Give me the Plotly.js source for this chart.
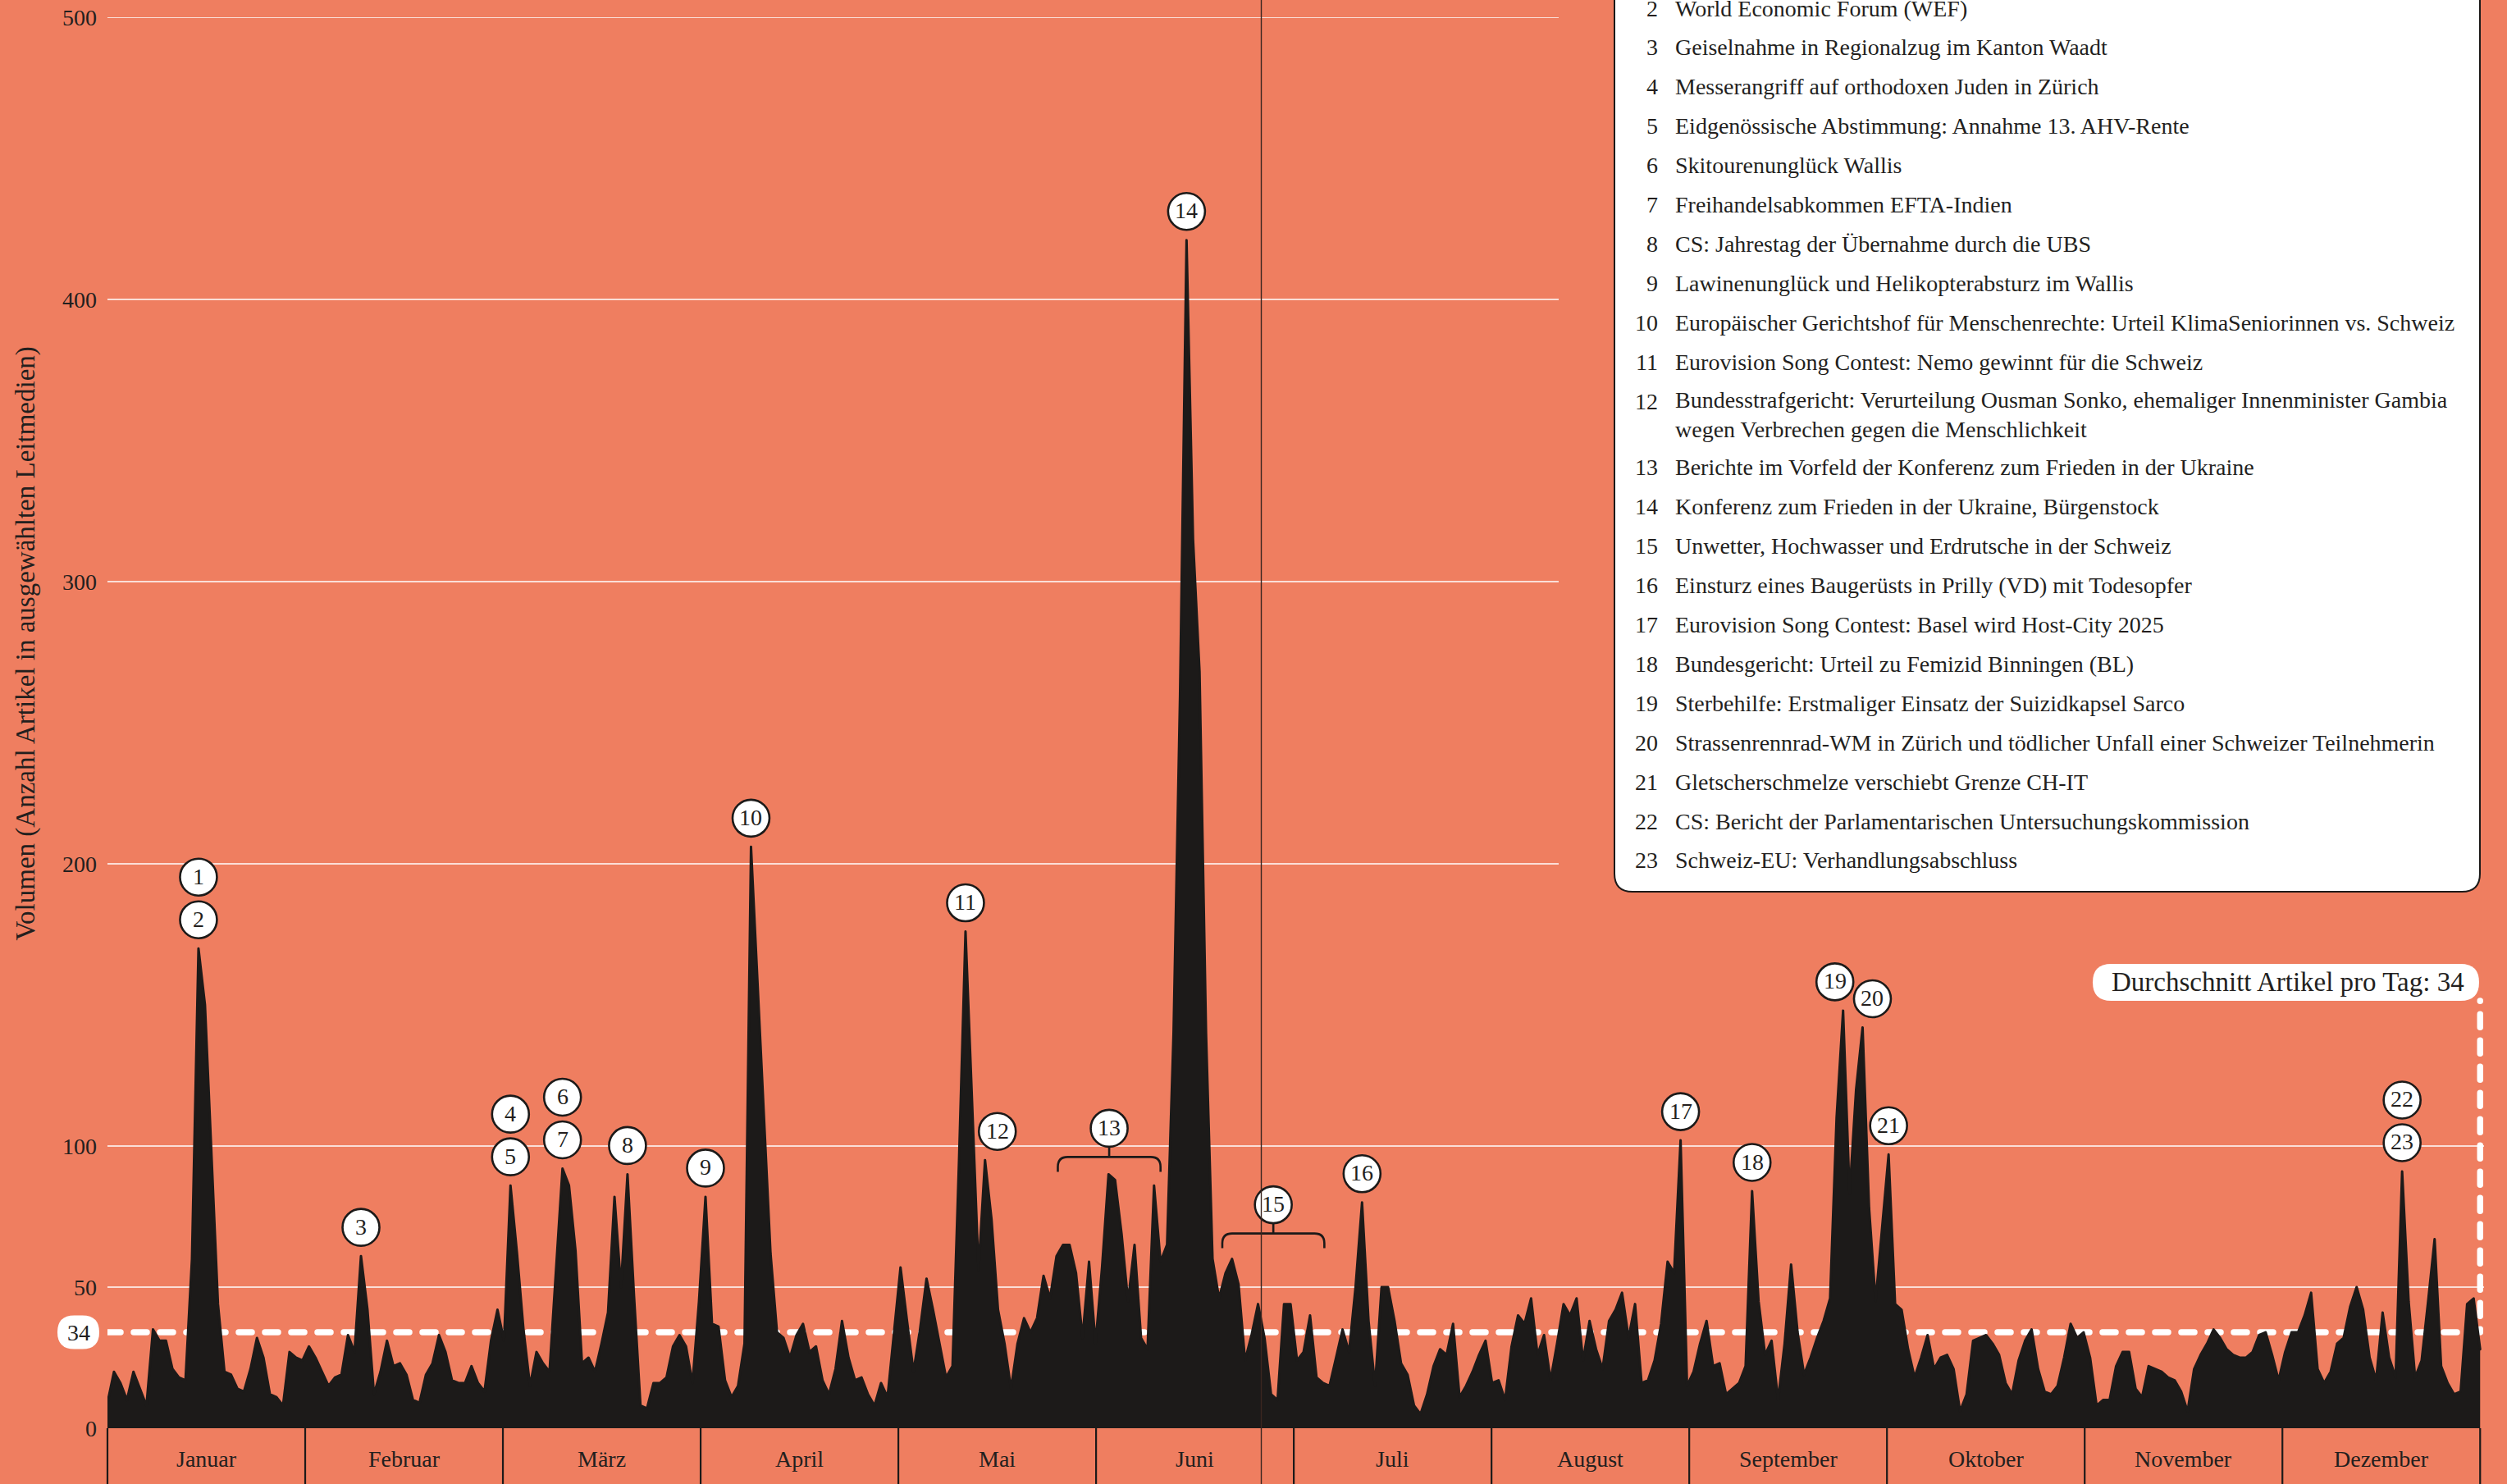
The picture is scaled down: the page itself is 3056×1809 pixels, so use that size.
<!DOCTYPE html>
<html>
<head>
<meta charset="utf-8">
<script src="https://cdn.plot.ly/plotly-3.0.1.min.js"></script>
<style>
html, body { margin: 0; padding: 0; background: #EF7E60; }
#chart { width: 3056px; height: 1809px; }
.scatterlayer path.js-line { stroke-linecap: round; stroke-linejoin: round; }
</style>
</head>
<body>
<div id="chart"></div>
<script>
// ---------------- DATA ----------------
const monthLabels = ['Januar', 'Februar', 'März', 'April', 'Mai', 'Juni', 'Juli', 'August', 'September', 'Oktober', 'November', 'Dezember'];
const monthLengths = [31, 29, 31, 30, 31, 30, 31, 31, 30, 31, 30, 31];

// daily article volume 2024, by month
const jan = [9, 20, 16, 10, 20, 14, 8, 35, 31, 31, 21, 18, 17, 60, 170, 150, 96, 44, 20, 19, 14, 13, 21, 32, 25, 12, 11, 8, 27, 25, 24];
const feb = [29, 25, 20, 15, 18, 19, 33, 27, 61, 42, 12, 20, 31, 22, 23, 19, 10, 9, 19, 23, 33, 27, 17, 16, 16, 22, 16, 13, 31];
const mar = [42, 31, 86, 62, 35, 15, 27, 23, 20, 56, 92, 86, 63, 23, 25, 20, 30, 41, 82, 50, 90, 47, 8, 7, 16, 16, 18, 29, 33, 29, 16];
const apr = [45, 82, 37, 36, 17, 11, 15, 30, 206, 157, 108, 62, 34, 32, 25, 33, 37, 27, 29, 17, 12, 21, 38, 25, 17, 18, 12, 8, 16, 11];
const may = [34, 57, 38, 20, 35, 53, 42, 30, 18, 22, 95, 176, 116, 56, 95, 74, 42, 30, 14, 30, 39, 34, 39, 54, 46, 61, 65, 65, 55, 32, 59];
const jun = [30, 57, 90, 88, 69, 45, 65, 32, 28, 86, 59, 65, 140, 260, 421, 315, 268, 140, 60, 46, 55, 60, 51, 24, 33, 44, 32, 12, 10, 44];
const jul = [44, 24, 27, 40, 18, 16, 15, 25, 35, 27, 50, 80, 38, 15, 50, 50, 38, 23, 19, 8, 5, 12, 22, 28, 26, 37, 11, 15, 20, 26, 31];
const aug = [16, 17, 10, 29, 40, 37, 46, 26, 33, 17, 30, 44, 40, 46, 24, 38, 28, 21, 38, 42, 48, 32, 44, 16, 17, 24, 37, 59, 55, 102, 15];
const sep = [20, 30, 38, 22, 23, 12, 14, 16, 22, 84, 45, 26, 31, 10, 30, 58, 34, 19, 25, 32, 38, 46, 110, 148, 83, 120, 142, 78, 45, 70];
const oct = [97, 44, 42, 28, 18, 25, 33, 21, 25, 26, 21, 6, 12, 31, 32, 33, 30, 26, 16, 12, 24, 31, 35, 21, 13, 12, 15, 25, 37, 32, 34];
const nov = [25, 8, 10, 10, 22, 27, 27, 14, 11, 22, 21, 20, 18, 17, 13, 6, 21, 26, 30, 35, 32, 28, 26, 25, 25, 27, 33, 34, 26, 17];
const dec = [27, 34, 34, 40, 48, 21, 16, 20, 30, 32, 43, 50, 42, 25, 17, 41, 25, 18, 91, 45, 18, 24, 45, 67, 22, 16, 12, 13, 44, 46, 28];

const averagePerDay = 34;
const yTickValues = [0, 50, 100, 200, 300, 400, 500];

// numbered events (peak date)
const eventNumbers = ['1', '2', '3', '4', '5', '6', '7', '8', '9', '10', '11', '12', '14', '16', '17', '18', '19', '20', '21', '22', '23'];
const eventMonths  = [0, 0, 1, 2, 2, 2, 2, 2, 3, 3, 4, 4, 5, 6, 7, 8, 8, 8, 9, 11, 11];
const eventDays    = [15, 15, 9, 3, 3, 11, 11, 21, 2, 9, 12, 15, 15, 12, 30, 10, 24, 27, 1, 19, 19];
const eventStack   = [1, 0, 0, 1, 0, 1, 0, 0, 0, 0, 0, 0, 0, 0, 0, 0, 0, 0, 0, 1, 0];

// events spanning a period (day-of-year range)
const rangeNumbers = ['13', '15'];
const rangeFrom = [146.2, 171.5];
const rangeTo = [162, 187.2];

const legendNumbers = ['2', '3', '4', '5', '6', '7', '8', '9', '10', '11', '12', '13', '14', '15', '16', '17', '18', '19', '20', '21', '22', '23'];
const legendTexts = [
  'World Economic Forum (WEF)',
  'Geiselnahme in Regionalzug im Kanton Waadt',
  'Messerangriff auf orthodoxen Juden in Zürich',
  'Eidgenössische Abstimmung: Annahme 13. AHV-Rente',
  'Skitourenunglück Wallis',
  'Freihandelsabkommen EFTA-Indien',
  'CS: Jahrestag der Übernahme durch die UBS',
  'Lawinenunglück und Helikopterabsturz im Wallis',
  'Europäischer Gerichtshof für Menschenrechte: Urteil KlimaSeniorinnen vs. Schweiz',
  'Eurovision Song Contest: Nemo gewinnt für die Schweiz',
  'Bundesstrafgericht: Verurteilung Ousman Sonko, ehemaliger Innenminister Gambia<br>wegen Verbrechen gegen die Menschlichkeit',
  'Berichte im Vorfeld der Konferenz zum Frieden in der Ukraine',
  'Konferenz zum Frieden in der Ukraine, Bürgenstock',
  'Unwetter, Hochwasser und Erdrutsche in der Schweiz',
  'Einsturz eines Baugerüsts in Prilly (VD) mit Todesopfer',
  'Eurovision Song Contest: Basel wird Host-City 2025',
  'Bundesgericht: Urteil zu Femizid Binningen (BL)',
  'Sterbehilfe: Erstmaliger Einsatz der Suizidkapsel Sarco',
  'Strassenrennrad-WM in Zürich und tödlicher Unfall einer Schweizer Teilnehmerin',
  'Gletscherschmelze verschiebt Grenze CH-IT',
  'CS: Bericht der Parlamentarischen Untersuchungskommission',
  'Schweiz-EU: Verhandlungsabschluss'
];

const yTitle = 'Volumen (Anzahl Artikel in ausgewählten Leitmedien)';
const avgLabel = 'Durchschnitt Artikel pro Tag: ';

// ---------------- LAYOUT / STYLE ----------------
const W = 3056, H = 1809;
const M = { l: 131, r: 28, t: 21, b: 68, pad: 0 };
const plotW = W - M.l - M.r;
const plotH = H - M.t - M.b;
const X_MAX = 365.6, Y_MAX = 500;
const BG = '#EF7E60';
const DARK = '#1c1a19';
const TEXT = '#231f1e';
const FONT = '"Liberation Serif", "Times New Roman", serif';
const uy = Y_MAX / plotH;   // data units per pixel (y)
const ux = X_MAX / plotW;   // days per pixel (x)
const markerDay = 177.5;
const avgLabelValue = 158;
const eventDx = { '12': 15, '19': -10, '20': 12 };
const rangeGap = { '13': 21, '15': 31 };
const LEGEND_FONT = 28;
const CIRCLE_FONT = 28;

const volume = [].concat(jan, feb, mar, apr, may, jun, jul, aug, sep, oct, nov, dec);
const dayIdx = volume.map((_, i) => i);
const lastDay = volume.length - 1;
function doy(m, d) { let s = 0; for (let k = 0; k < m; k++) s += monthLengths[k]; return s + d - 1; }
function pxX(px) { return (px - M.l) / plotW; }
function pxY(py) { return (H - M.b - py) / plotH; }
function valPy(v) { return M.t + plotH * (1 - v / Y_MAX); }
function roundRect(x0, y0, x1, y1, r) {
  const X = pxX, Y = pxY;
  return `M ${X(x0 + r)},${Y(y0)} L ${X(x1 - r)},${Y(y0)} Q ${X(x1)},${Y(y0)} ${X(x1)},${Y(y0 + r)} ` +
    `L ${X(x1)},${Y(y1 - r)} Q ${X(x1)},${Y(y1)} ${X(x1 - r)},${Y(y1)} L ${X(x0 + r)},${Y(y1)} ` +
    `Q ${X(x0)},${Y(y1)} ${X(x0)},${Y(y1 - r)} L ${X(x0)},${Y(y0 + r)} Q ${X(x0)},${Y(y0)} ${X(x0 + r)},${Y(y0)} Z`;
}

const shapes = [];
const annotations = [];

// grid lines
yTickValues.filter(v => v > 0).forEach(v => {
  shapes.push({ type: 'line', xref: 'paper', yref: 'y', x0: 0, x1: v > 100 ? pxX(1900) : 1, y0: v, y1: v,
    line: { color: '#ffffff', width: 1.6 }, layer: 'below' });
});

// month cells
const monthSpan = lastDay / 12;
for (let k = 0; k <= 12; k++) {
  const xp = (k * monthSpan) / X_MAX;
  shapes.push({ type: 'line', xref: 'paper', yref: 'paper', x0: xp, x1: xp, y0: 0, y1: -M.b / plotH,
    line: { color: DARK, width: 2.2 } });
}
monthLabels.forEach((lab, k) => {
  annotations.push({ xref: 'paper', yref: 'paper', x: ((k + 0.5) * monthSpan) / X_MAX, y: pxY(1778),
    text: lab, showarrow: false, xanchor: 'center', yanchor: 'middle', font: { size: 28, color: TEXT } });
});

// event circles
const R = 22.5, GAP = 35, STEP = 52;
eventNumbers.forEach((num, i) => {
  const day = doy(eventMonths[i], eventDays[i]);
  const val = volume[day];
  const cy = GAP + eventStack[i] * STEP;
  const dx = eventDx[num] || 0;
  shapes.push({ type: 'circle', xref: 'x', yref: 'y', xsizemode: 'pixel', ysizemode: 'pixel',
    xanchor: day, yanchor: val, x0: dx - R, x1: dx + R, y0: cy - R, y1: cy + R,
    fillcolor: '#ffffff', line: { color: DARK, width: 2.6 }, layer: 'above' });
  annotations.push({ xref: 'x', yref: 'y', x: day, y: val, xshift: dx, yshift: cy + 1, text: num,
    showarrow: false, xanchor: 'center', yanchor: 'middle', font: { size: CIRCLE_FONT, color: TEXT } });
});

// range brackets
rangeNumbers.forEach((num, i) => {
  const a = rangeFrom[i], b = rangeTo[i];
  let mx = 0;
  for (let d = Math.ceil(a); d <= Math.floor(b); d++) mx = Math.max(mx, volume[d]);
  const by = mx + rangeGap[num] * uy;
  const ey = by - 18 * uy;
  const rx = 12 * ux, ry = 12 * uy;
  const mid = (a + b) / 2;
  const stemTop = by + 12 * uy;
  shapes.push({ type: 'path', xref: 'x', yref: 'y',
    path: `M ${a},${ey} L ${a},${by - ry} Q ${a},${by} ${a + rx},${by} L ${b - rx},${by} Q ${b},${by} ${b},${by - ry} L ${b},${ey} M ${mid},${by} L ${mid},${stemTop}`,
    line: { color: DARK, width: 2.6 }, fillcolor: 'rgba(0,0,0,0)', layer: 'above' });
  const cy = 35;
  shapes.push({ type: 'circle', xref: 'x', yref: 'y', xsizemode: 'pixel', ysizemode: 'pixel',
    xanchor: mid, yanchor: by, x0: -R, x1: R, y0: cy - R, y1: cy + R,
    fillcolor: '#ffffff', line: { color: DARK, width: 2.6 }, layer: 'above' });
  annotations.push({ xref: 'x', yref: 'y', x: mid, y: by, yshift: cy + 1, text: num,
    showarrow: false, xanchor: 'center', yanchor: 'middle', font: { size: CIRCLE_FONT, color: TEXT } });
});

// average labels
const avgPy = valPy(averagePerDay);
shapes.push({ type: 'path', xref: 'paper', yref: 'paper', path: roundRect(70, avgPy - 20.5, 121, avgPy + 20.5, 20.5),
  fillcolor: '#ffffff', line: { width: 0 }, layer: 'above' });
annotations.push({ xref: 'paper', yref: 'y', x: pxX(95.5), y: averagePerDay, text: String(averagePerDay), showarrow: false,
  xanchor: 'center', yanchor: 'middle', font: { size: 28, color: TEXT } });
const lblPy = valPy(avgLabelValue);
shapes.push({ type: 'path', xref: 'paper', yref: 'paper', path: roundRect(2551, lblPy - 22.5, 3022, lblPy + 22.5, 22.5),
  fillcolor: '#ffffff', line: { width: 0 }, layer: 'above' });
annotations.push({ xref: 'paper', yref: 'y', x: pxX(2788.5), y: avgLabelValue, text: avgLabel + averagePerDay, showarrow: false,
  xanchor: 'center', yanchor: 'middle', font: { size: 33, color: TEXT } });

// legend box
shapes.push({ type: 'path', xref: 'paper', yref: 'paper', path: roundRect(1968, -80, 3023, 1087, 22),
  fillcolor: '#ffffff', line: { color: DARK, width: 2 }, layer: 'above' });
legendNumbers.forEach((num, i) => {
  const k = parseInt(num, 10);
  let cy = 10 + (k - 2) * 47.9;
  if (k >= 13) cy += 33;
  const multi = legendTexts[i].indexOf('<br>') >= 0;
  annotations.push({ xref: 'paper', yref: 'paper', x: pxX(2023), y: pxY(cy), text: num, showarrow: false,
    xanchor: 'right', yanchor: 'middle', font: { size: LEGEND_FONT, color: TEXT } });
  annotations.push({ xref: 'paper', yref: 'paper', x: pxX(2039.5), y: pxY(multi ? cy + 17 : cy), text: legendTexts[i],
    showarrow: false, xanchor: 'left', yanchor: 'middle', align: 'left', font: { size: LEGEND_FONT, color: TEXT } });
});

// y title
annotations.push({ xref: 'paper', yref: 'paper', x: pxX(31), y: pxY(784.5), text: yTitle, textangle: -90,
  showarrow: false, xanchor: 'center', yanchor: 'middle', font: { size: 33, color: TEXT } });

// thin vertical marker
shapes.push({ type: 'line', xref: 'paper', yref: 'paper', x0: markerDay / X_MAX, x1: markerDay / X_MAX,
  y0: -M.b / plotH, y1: 1 + M.t / plotH, line: { color: '#3b2620', width: 1.4 }, layer: 'above' });

const traces = [
  { type: 'scatter', mode: 'lines', x: [0, lastDay, lastDay], y: [averagePerDay, averagePerDay, avgLabelValue - 22.5 * uy],
    line: { color: '#ffffff', width: 7.5, dash: '16px,16px' }, hoverinfo: 'skip' },
  { type: 'scatter', mode: 'lines', x: dayIdx, y: volume, fill: 'tozeroy', fillcolor: DARK,
    line: { color: DARK, width: 3 }, hoverinfo: 'skip' }
];

const layout = {
  width: W, height: H, margin: M,
  paper_bgcolor: BG, plot_bgcolor: BG, showlegend: false,
  font: { family: FONT, color: TEXT, size: 27 },
  xaxis: { range: [0, X_MAX], showgrid: false, zeroline: false, showticklabels: false, ticks: '', showline: false, fixedrange: true },
  yaxis: { range: [0, Y_MAX], tickvals: yTickValues, ticktext: yTickValues.map(String), showgrid: false, zeroline: false,
    ticks: '', showline: false, tickfont: { size: 28, color: TEXT, family: FONT }, ticklabelstandoff: 12, automargin: false, fixedrange: true },
  shapes: shapes,
  annotations: annotations
};

Plotly.newPlot('chart', traces, layout, { displayModeBar: false, staticPlot: true });
</script>
</body>
</html>
